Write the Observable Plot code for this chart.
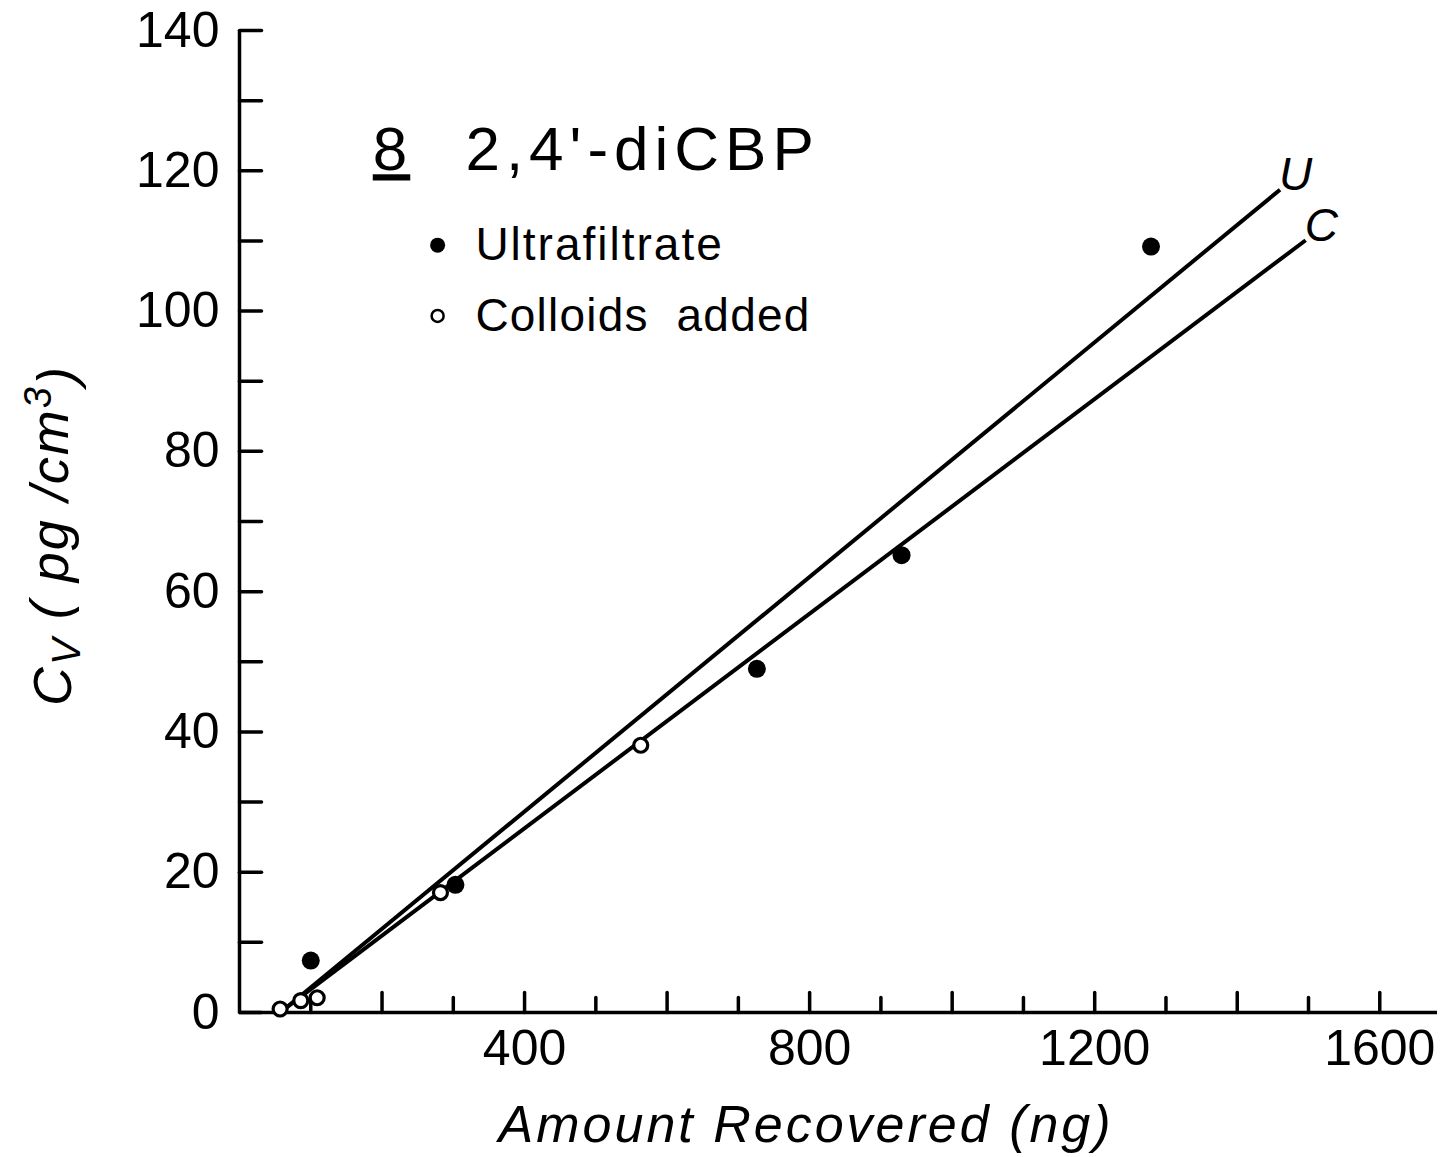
<!DOCTYPE html>
<html><head><meta charset="utf-8">
<script src="https://cdn.jsdelivr.net/npm/d3@7"></script>
<script src="https://cdn.jsdelivr.net/npm/@observablehq/plot@0.6"></script>
<style>body{margin:0;background:#fff}</style>
</head><body><div id="chart"></div>
<script>
// Data
const ultraX = [100, 303, 726, 929, 1279];
const ultraY = [7.4, 18.2, 49.0, 65.2, 109.2];
const colloidX = [57, 86, 109, 282, 563];
const colloidY = [0.5, 1.7, 2.1, 17.1, 38.1];
const fitNames = ["U", "C"];
const fitStartX = [62, 62];
const fitStartY = [0.4, 0.4];
const fitEndX = [1460, 1496];
const fitEndY = [117.3, 110.1];
const xTicks = [100, 200, 300, 400, 500, 600, 700, 800, 900, 1000, 1100, 1200, 1300, 1400, 1500, 1600];
const xTickLabels = [400, 800, 1200, 1600];
const yTicks = [0, 10, 20, 30, 40, 50, 60, 70, 80, 90, 100, 110, 120, 130, 140];
const yTickLabels = [0, 20, 40, 60, 80, 100, 120, 140];
const legendNames = ["Ultrafiltrate", "Colloids  added"];
const titleNumber = "8";
const titleName = "2,4'-diCBP";
const xLabel = "Amount Recovered (ng)";
const yLabel = "Cv (pg/cm3)";

const fits = fitNames.map((n, i) => ({name: n, x1: fitStartX[i], y1: fitStartY[i], x2: fitEndX[i], y2: fitEndY[i]}));
const ultra = ultraX.map((x, i) => ({x, y: ultraY[i]}));
const colloid = colloidX.map((x, i) => ({x, y: colloidY[i]}));

const tickShape = {draw(ctx, l) { ctx.moveTo(0, 0); ctx.lineTo(0, -l); }};
const font = "Liberation Sans, Arial, sans-serif";

const chart = Plot.plot({
  width: 1453,
  height: 1157,
  marginLeft: 239,
  marginRight: 16,
  marginTop: 30,
  marginBottom: 145,
  style: {fontFamily: font, background: "#fff", color: "#000"},
  x: {domain: [0, 1681], axis: null},
  y: {domain: [0, 140], axis: null},
  marks: [
    // axes
    Plot.ruleX([0], {y1: 0, y2: 140, stroke: "black", strokeWidth: 3.5}),
    Plot.ruleY([0], {x1: 0, x2: 1681, stroke: "black", strokeWidth: 3.5}),
    Plot.vector(yTicks, {x: 0, y: d => d, length: 22, rotate: 90, anchor: "start", shape: tickShape, stroke: "black", strokeWidth: 3.5}),
    Plot.vector(xTicks.filter(d => d % 200 === 0), {x: d => d, y: 0, length: 20, rotate: 0, anchor: "start", shape: tickShape, stroke: "black", strokeWidth: 3.5}),
    Plot.vector(xTicks.filter(d => d % 200 !== 0), {x: d => d, y: 0, length: 15, rotate: 0, anchor: "start", shape: tickShape, stroke: "black", strokeWidth: 3.5}),
    Plot.text(yTickLabels, {x: 0, y: d => d, text: d => String(d), textAnchor: "end", dx: -20, fontSize: 50, fill: "black"}),
    Plot.text(xTickLabels, {x: d => d, y: 0, text: d => String(d), dy: 36, fontSize: 50, fill: "black"}),
    // fitted lines
    Plot.link(fits, {x1: "x1", y1: "y1", x2: "x2", y2: "y2", stroke: "black", strokeWidth: 4}),
    Plot.text(fits, {x: d => d.x2 + 22, y: d => d.y2 + 2, text: "name", fontSize: 46, fontStyle: "italic", fill: "black"}),
    // data points
    Plot.dot(ultra, {x: "x", y: "y", r: 9, fill: "black"}),
    Plot.dot(colloid, {x: "x", y: "y", r: 7, fill: "white", stroke: "black", strokeWidth: 3.2}),
    // title
    Plot.text([titleNumber], {x: 187, y: 122.9, text: d => d, textAnchor: "start", fontSize: 62, fill: "black"}),
    Plot.text([titleName], {x: 317, y: 122.9, text: d => d, textAnchor: "start", fontSize: 62, fill: "black"}),
    // legend
    Plot.dot([legendNames[0]], {x: 278, y: 109.4, r: 7.5, fill: "black"}),
    Plot.dot([legendNames[1]], {x: 278, y: 99.3, r: 6, fill: "white", stroke: "black", strokeWidth: 2.5}),
    Plot.text([legendNames[0]], {x: 331, y: 109.4, text: d => d, textAnchor: "start", fontSize: 46, fill: "black"}),
    Plot.text([legendNames[1]], {x: 331, y: 99.3, text: d => d, textAnchor: "start", fontSize: 46, fill: "black"}),
    // axis labels
    Plot.text([xLabel], {x: 795, y: 0, dy: 113, text: d => d, fontSize: 52, fontStyle: "italic", fill: "black"}),
    Plot.text([yLabel], {x: 0, y: 68, dx: -186, rotate: -90, text: d => d, fontSize: 54, fontStyle: "italic", fill: "black"})
  ]
});
document.getElementById("chart").appendChild(chart);

const svg = d3.select(chart);
const byText = s => svg.selectAll("text").filter(function() { return this.textContent === s; });
byText(titleNumber).style("text-decoration", "underline").style("letter-spacing", "3px");
byText(titleName).style("letter-spacing", "6px");
byText(legendNames[0]).style("letter-spacing", "2px").style("white-space", "pre");
byText(legendNames[1]).style("letter-spacing", "1.2px").style("white-space", "pre");
byText(xLabel).style("letter-spacing", "3px");
const yl = byText(yLabel);
yl.text(null).style("letter-spacing", "2px").style("white-space", "pre");
yl.append("tspan").text("C");
yl.append("tspan").attr("dy", "0.22em").attr("font-size", "40").text("V");
yl.append("tspan").attr("dy", "-0.22em").text(" ( pg /cm");
yl.append("tspan").attr("dy", "-0.45em").attr("font-size", "38").text("3");
yl.append("tspan").attr("dy", "0.45em").text(")");
</script>
</body></html>
